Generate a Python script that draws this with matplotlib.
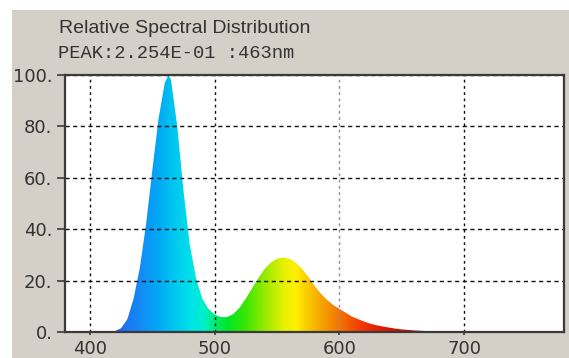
import numpy as np
import matplotlib
matplotlib.use("Agg")
import matplotlib.pyplot as plt
from matplotlib.colors import LinearSegmentedColormap
from matplotlib.patches import Rectangle

# ---- data ----
wavelength = [380, 390, 400, 410, 415, 420, 425, 430, 435, 440, 445, 450, 455, 460, 463,
              465, 470, 475, 480, 485, 490, 495, 500, 505, 510, 515, 520, 525, 530,
              535, 540, 545, 550, 555, 560, 565, 570, 575, 580, 585, 590, 595, 600,
              605, 610, 615, 620, 625, 630, 635, 640, 645, 650, 660, 670, 680, 690,
              700, 720, 740, 760, 780]
intensity = [0, 0, 0, 0, 0, 0.3, 1.5, 5, 13, 25, 42, 63, 83, 97, 100,
             98, 80, 55, 34, 21, 13, 9, 6.8, 5.8, 5.8, 7, 9.5, 13, 17,
             21, 24.5, 27, 28.5, 29, 28.5, 27, 24.5, 21.5, 18, 15, 12.5, 10.5, 9,
             7.5, 6, 5, 4, 3.2, 2.6, 2.1, 1.7, 1.3, 1.0, 0.6, 0.35, 0.2, 0.1,
             0.05, 0, 0, 0, 0]

x_ticks = [400, 500, 600, 700]
y_ticks = [0, 20, 40, 60, 80, 100]
y_tick_labels = ["0.", "20.", "40.", "60.", "80.", "100."]
title_text = "Relative Spectral Distribution"
peak_text = "PEAK:2.254E-01 :463nm"

# spectral colour stops (wavelength -> colour)
stop_wl = [380, 410, 425, 440, 455, 465, 480, 492, 500, 510, 525, 540, 555, 565,
           575, 590, 605, 620, 640, 660, 700, 780]
stop_rgb = [(60, 0, 120), (40, 60, 220), (30, 110, 240), (20, 140, 245), (0, 170, 245),
            (0, 195, 240), (0, 225, 235), (0, 240, 200), (0, 235, 110), (0, 230, 40),
            (60, 230, 0), (150, 235, 0), (230, 240, 0), (255, 240, 0), (250, 200, 0),
            (245, 150, 0), (245, 100, 0), (240, 50, 0), (220, 20, 0), (200, 0, 0),
            (150, 0, 0), (100, 0, 0)]

wl_min, wl_max = 380, 780
cmap = LinearSegmentedColormap.from_list(
    "spec",
    [((w - wl_min) / (wl_max - wl_min), tuple(c / 255 for c in rgb))
     for w, rgb in zip(stop_wl, stop_rgb)])

W, H = 569, 358
fig = plt.figure(figsize=(W / 100, H / 100), dpi=100)
fig.patch.set_facecolor("white")
fig.add_artist(Rectangle((12 / W, 0), 1 - 12 / W, 1 - 10 / H,
                         transform=fig.transFigure, facecolor="#d4d0c8",
                         edgecolor="none", zorder=-10))

ax = fig.add_axes([65 / W, 1 - 332 / H, (564 - 65) / W, (332 - 75) / H])
ax.set_facecolor("white")
ax.set_xlim(wl_min, wl_max)
ax.set_ylim(0, 100)

# coloured fill clipped to the spectrum
poly = ax.fill_between(wavelength, intensity, 0, facecolor="none", edgecolor="none")
grad = np.linspace(wl_min, wl_max, 800).reshape(1, -1)
img = ax.imshow(grad, extent=[wl_min, wl_max, 0, 100], aspect="auto",
                cmap=cmap, vmin=wl_min, vmax=wl_max, origin="lower",
                interpolation="bilinear", zorder=1)
img.set_clip_path(poly.get_paths()[0], transform=ax.transData)

ax.set_xticks(x_ticks)
ax.set_xticklabels([str(v) for v in x_ticks])
ax.set_yticks(y_ticks)
ax.set_yticklabels(y_tick_labels)

ax.set_axisbelow(False)
ax.xaxis.grid(True, color="#111111", linestyle=(0, (2, 2.5)), linewidth=1.0)
ax.yaxis.grid(True, color="#111111", linestyle=(0, (3, 2.5)), linewidth=1.0)
for gl in ax.xaxis.get_gridlines():
    gl.set_zorder(3)
ax.xaxis.get_gridlines()[2].set_color("#8c8ca8")
for gl in ax.yaxis.get_gridlines():
    gl.set_zorder(3)

for s in ax.spines.values():
    s.set_color("#3a3a3a")
    s.set_linewidth(1.6)
    s.set_zorder(4)

ax.tick_params(axis="y", direction="out", length=6, width=1.2, color="#3a3a3a",
               pad=3, labelsize=13, labelcolor="#333333")
ax.tick_params(axis="x", direction="out", length=2.5, width=1.2, color="#3a3a3a",
               pad=3, labelsize=13, labelcolor="#333333")

fig.text(59 / W, 1 - 33 / H, title_text, fontsize=14, family="Liberation Sans",
         color="#333333", va="baseline", ha="left")
fig.text(58 / W, 1 - 58 / H, peak_text, fontsize=13.5, family="Liberation Mono",
         color="#333333", va="baseline", ha="left")

fig.savefig("out.png", dpi=100, facecolor=fig.get_facecolor())
